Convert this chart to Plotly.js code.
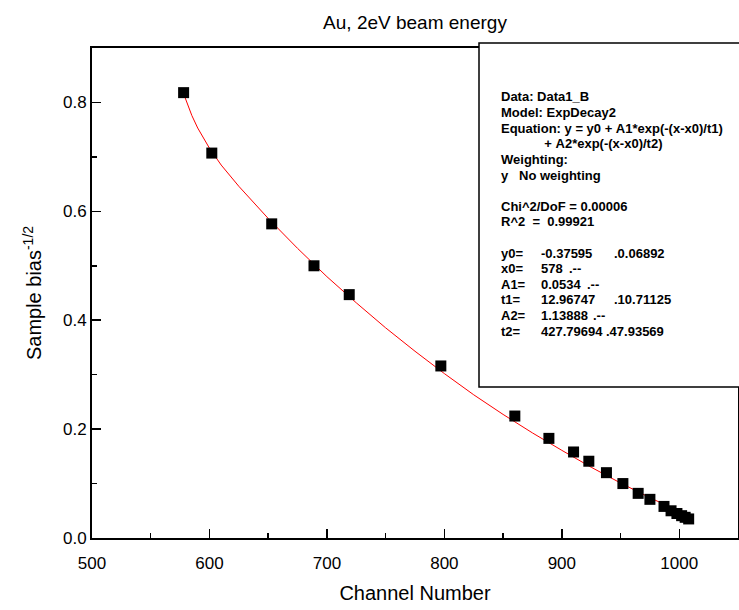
<!DOCTYPE html>
<html>
<head>
<meta charset="utf-8">
<script src="https://cdn.plot.ly/plotly-3.0.1.min.js"></script>
<style>html,body{margin:0;padding:0;background:#fff;}#chart{width:739px;height:610px;}</style>
</head>
<body>
<div id="chart"></div>
<script>
// ---- data ----
const channel = [578, 602, 653, 689, 719, 797, 860, 889, 910, 923, 938, 952, 965, 975, 987, 993, 998, 1002, 1005, 1008];
const bias = [0.818, 0.707, 0.577, 0.500, 0.447, 0.316, 0.224, 0.183, 0.158, 0.141, 0.120, 0.100, 0.082, 0.071, 0.058, 0.050, 0.045, 0.041, 0.038, 0.035];

// fitted curve (red line)
const fitX = [578, 585, 590, 600, 610, 625, 650, 675, 700, 725, 750, 775, 800, 825, 850, 875, 900, 925, 950, 975, 1000, 1008];
const fitY = [0.816, 0.776, 0.753, 0.716, 0.685, 0.646, 0.587, 0.532, 0.480, 0.432, 0.386, 0.343, 0.302, 0.263, 0.227, 0.193, 0.161, 0.130, 0.101, 0.074, 0.049, 0.041];

const xTickVals = [500, 600, 700, 800, 900, 1000];
const xTickText = ["500", "600", "700", "800", "900", "1000"];
const yTickVals = [0.0, 0.2, 0.4, 0.6, 0.8];
const yTickText = ["0.0", "0.2", "0.4", "0.6", "0.8"];

const chartTitle = "Au, 2eV beam energy";
const xTitle = "Channel Number";
const yTitle = "Sample bias<sup>-1/2</sup>";

// fit report text
const headLines = [
  "Data: Data1_B",
  "Model: ExpDecay2",
  "Equation: y = y0 + A1*exp(-(x-x0)/t1)",
  "            + A2*exp(-(x-x0)/t2)",
  "Weighting:",
  "y   No weighting",
  "",
  "Chi^2/DoF = 0.00006",
  "R^2  =  0.99921",
  ""
];
const paramNames = ["y0=", "x0=", "A1=", "t1=", "A2=", "t2="];
const paramValues = ["-0.37595", "578", "0.0534", "12.96747", "1.13888", "427.79694"];
const paramErrors = [".0.06892", ".--", ".--", ".10.71125", ".--", ".47.93569"];

// ---- layout ----
const W = 739, H = 610;
const mL = 92, mR = 1, mT = 48, mB = 72;
const plotH = H - mT - mB;
const plotW = W - mL - mR;
const pxToPaperY = py => (H - mB - py) / plotH;
const pxToPaperX = px => (px - mL) / plotW;

const font = "Liberation Sans, Arial, Helvetica, sans-serif";
const textX = 499, valueX = 539;
const errX = [612, 567, 585, 612, 591, 604];
const lineY0 = 97, lineStep = 15.6;

function boxText(s, px, row) {
  return {
    xref: "paper", yref: "paper",
    x: pxToPaperX(px), y: pxToPaperY(lineY0 + row * lineStep),
    xanchor: "left", yanchor: "middle",
    text: "<b>" + s.replace(/ /g, "&nbsp;") + "</b>",
    showarrow: false,
    font: {family: font, size: 13, color: "#000"}
  };
}

const annotations = [];
headLines.forEach((s, i) => { if (s.length) annotations.push(boxText(s, textX, i)); });
paramNames.forEach((s, i) => {
  const row = headLines.length + i;
  annotations.push(boxText(s, textX, row));
  annotations.push(boxText(paramValues[i], valueX, row));
  annotations.push(boxText(paramErrors[i], errX[i], row));
});

const traces = [
  {
    x: fitX, y: fitY, type: "scatter", mode: "lines",
    line: {color: "#ff0000", width: 1},
    hoverinfo: "skip"
  },
  {
    x: channel, y: bias, type: "scatter", mode: "markers",
    marker: {symbol: "square", size: 11, color: "#000"}
  }
];

const axisCommon = {
  showgrid: false, zeroline: false,
  showline: true, linecolor: "#000", linewidth: 2, mirror: true,
  ticks: "inside", ticklen: 9, tickwidth: 1.5, tickcolor: "#000",
  tickfont: {family: font, size: 17, color: "#000"}
};

const layout = {
  width: W, height: H,
  margin: {l: mL, r: mR, t: mT, b: mB, pad: 0},
  paper_bgcolor: "#fff", plot_bgcolor: "#fff",
  showlegend: false,
  title: {text: chartTitle, x: 0.5, xref: "paper", y: 1 - 22 / H, yanchor: "middle",
          font: {family: font, size: 19, color: "#000"}},
  xaxis: Object.assign({}, axisCommon, {
    range: [500, 1050], tickmode: "array", tickvals: xTickVals, ticktext: xTickText,
    ticklabelstandoff: 9,
    minor: {ticks: "inside", ticklen: 5, tickwidth: 1.5, tickcolor: "#000", dtick: 50, tick0: 500},
    title: {text: xTitle, font: {family: font, size: 20, color: "#000"}, standoff: 14}
  }),
  yaxis: Object.assign({}, axisCommon, {
    range: [0, 0.9], tickmode: "array", tickvals: yTickVals, ticktext: yTickText,
    minor: {ticks: "inside", ticklen: 5, tickwidth: 1.5, tickcolor: "#000", dtick: 0.1, tick0: 0},
    title: {text: yTitle, font: {family: font, size: 20, color: "#000"}, standoff: 16}
  }),
  shapes: [
    {type: "rect", xref: "paper", yref: "paper",
     x0: pxToPaperX(479), x1: 1.05, y0: pxToPaperY(387), y1: pxToPaperY(43),
     line: {color: "#000", width: 1.5}, fillcolor: "#fff", layer: "above"}
  ],
  annotations: annotations
};

Plotly.newPlot("chart", traces, layout, {displayModeBar: false, staticPlot: true});
</script>
</body>
</html>
